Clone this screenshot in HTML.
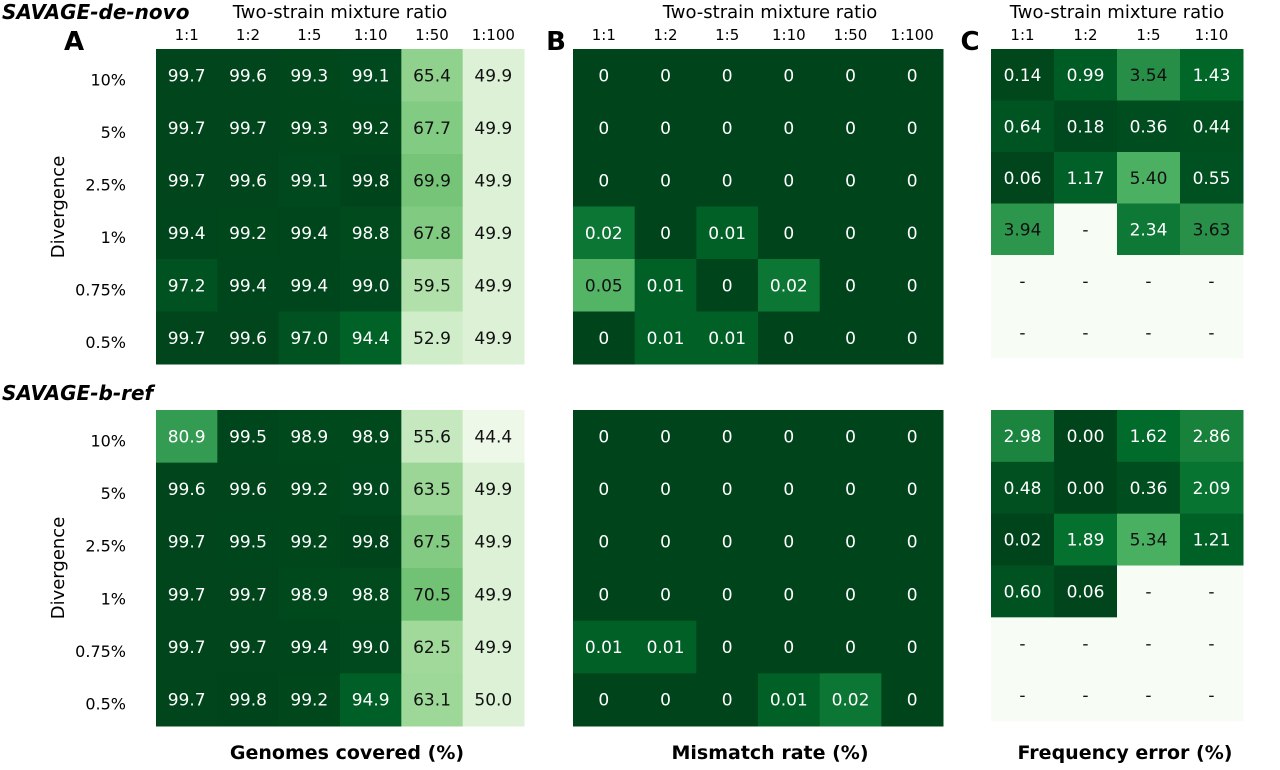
<!DOCTYPE html>
<html><head><meta charset="utf-8"><style>
body{margin:0;background:#fff;width:1280px;height:766px;overflow:hidden;font-family:"DejaVu Sans","Liberation Sans",sans-serif}
svg text{font-family:"DejaVu Sans","Liberation Sans",sans-serif}
</style></head><body>
<svg id="fig" width="1280" height="766" xmlns="http://www.w3.org/2000/svg"></svg>
<script>
const ratiosAB=["1:1","1:2","1:5","1:10","1:50","1:100"];
const ratiosC=["1:1","1:2","1:5","1:10"];
const divergences=["10%","5%","2.5%","1%","0.75%","0.5%"];
const covDeNovo=[[99.7,99.6,99.3,99.1,65.4,49.9],[99.7,99.7,99.3,99.2,67.7,49.9],[99.7,99.6,99.1,99.8,69.9,49.9],[99.4,99.2,99.4,98.8,67.8,49.9],[97.2,99.4,99.4,99.0,59.5,49.9],[99.7,99.6,97.0,94.4,52.9,49.9]];
const covBRef=[[80.9,99.5,98.9,98.9,55.6,44.4],[99.6,99.6,99.2,99.0,63.5,49.9],[99.7,99.5,99.2,99.8,67.5,49.9],[99.7,99.7,98.9,98.8,70.5,49.9],[99.7,99.7,99.4,99.0,62.5,49.9],[99.7,99.8,99.2,94.9,63.1,50.0]];
const mmDeNovo=[["0","0","0","0","0","0"],["0","0","0","0","0","0"],["0","0","0","0","0","0"],["0.02","0","0.01","0","0","0"],["0.05","0.01","0","0.02","0","0"],["0","0.01","0.01","0","0","0"]];
const mmBRef=[["0","0","0","0","0","0"],["0","0","0","0","0","0"],["0","0","0","0","0","0"],["0","0","0","0","0","0"],["0.01","0.01","0","0","0","0"],["0","0","0","0.01","0.02","0"]];
const feDeNovo=[["0.14","0.99","3.54","1.43"],["0.64","0.18","0.36","0.44"],["0.06","1.17","5.40","0.55"],["3.94","-","2.34","3.63"],["-","-","-","-"],["-","-","-","-"]];
const feBRef=[["2.98","0.00","1.62","2.86"],["0.48","0.00","0.36","2.09"],["0.02","1.89","5.34","1.21"],["0.60","0.06","-","-"],["-","-","-","-"],["-","-","-","-"]];

const NS="http://www.w3.org/2000/svg";
const svg=document.getElementById('fig');
const stops=["#f7fcf5","#e5f5e0","#c7e9c0","#a1d99b","#74c476","#41ab5d","#238b45","#006d2c","#00441b"];
function hex(h){return [1,3,5].map(i=>parseInt(h.substr(i,2),16));}
function greens(t){t=Math.max(0,Math.min(1,t));const p=t*8,i=Math.min(7,Math.floor(p)),f=p-i;const a=hex(stops[i]),b=hex(stops[i+1]);return `rgb(${a.map((v,k)=>Math.round(v+(b[k]-v)*f)).join(',')})`;}
function txt(x,y,s,size,opts){const t=document.createElementNS(NS,'text');t.setAttribute('x',x);t.setAttribute('y',y);t.setAttribute('font-size',size);t.setAttribute('text-anchor',(opts&&opts.anchor)||'middle');if(opts&&opts.weight)t.setAttribute('font-weight',opts.weight);if(opts&&opts.style)t.setAttribute('font-style',opts.style);if(opts&&opts.fill)t.setAttribute('fill',opts.fill);if(opts&&opts.tr)t.setAttribute('transform',opts.tr);t.textContent=s;svg.appendChild(t);return t;}

function heat(data,x0,x1,y0,y1,tfun,thr,name){
  const nr=data.length,nc=data[0].length,cw=(x1-x0)/nc,rh=(y1-y0)/nr;
  data.forEach((row,r)=>row.forEach((v,c)=>{
    const t=v==="-"?0:tfun(parseFloat(v));
    const rc=document.createElementNS(NS,'rect');
    rc.setAttribute('x',x0+c*cw);rc.setAttribute('y',y0+r*rh);rc.setAttribute('width',cw+0.5);rc.setAttribute('height',rh+0.5);rc.setAttribute('fill',greens(t));
    
    
    svg.appendChild(rc);
    const label=typeof v==="number"?v.toFixed(1):v;
    const tx=txt(x0+(c+0.5)*cw,y0+(r+0.5)*rh+6,label,17,{fill:t>thr?"#fff":"#111"});
    
    
  }));
}
const tA=v=>0.07+(v-44.4)/55.4*0.93;
const tB=v=>1-v/0.05*0.42;
const tC=v=>1-v/5.4*0.4;
heat(covDeNovo,156,524,49,364,tA,0.6,'coverage-denovo');
heat(covBRef,156,524,410,726,tA,0.6,'coverage-bref');
heat(mmDeNovo,573,943,49,364,tB,0.65,'mismatch-denovo');
heat(mmBRef,573,943,410,726,tB,0.65,'mismatch-bref');
heat(feDeNovo,991,1243,49,358,tC,0.76,'freqerr-denovo');
heat(feBRef,991,1243,410,721,tC,0.76,'freqerr-bref');

function colTicks(labels,x0,x1){const cw=(x1-x0)/labels.length;labels.forEach((l,i)=>{const t=txt(x0+(i+0.5)*cw,40,l,15);});}
colTicks(ratiosAB,156,524);colTicks(ratiosAB,573,943);colTicks(ratiosC,991,1243);
[[49,364],[410,726]].forEach(([y0,y1])=>{const rh=(y1-y0)/6;divergences.forEach((d,i)=>{const t=txt(126,y0+(i+0.5)*rh+10,d,16,{anchor:'end'});});});
[[207],[568]].forEach(([cy])=>{const t=txt(64,cy,"Divergence",18,{tr:`rotate(-90 64 ${cy})`});});
[[340],[770],[1117]].forEach(([cx])=>{const t=txt(cx,18,"Two-strain mixture ratio",18);});
let t;
t=txt(2,19,"SAVAGE-de-novo",20,{anchor:'start',weight:'bold',style:'italic'});
t=txt(2,400,"SAVAGE-b-ref",20,{anchor:'start',weight:'bold',style:'italic'});
t=txt(74,50,"A",26,{weight:'bold'});
t=txt(556,50,"B",26,{weight:'bold'});
t=txt(970,50,"C",26,{weight:'bold'});
t=txt(347,759,"Genomes covered (%)",19,{weight:'bold'});
t=txt(770,759,"Mismatch rate (%)",19,{weight:'bold'});
t=txt(1125,759,"Frequency error (%)",19,{weight:'bold'});
</script>
</body></html>
